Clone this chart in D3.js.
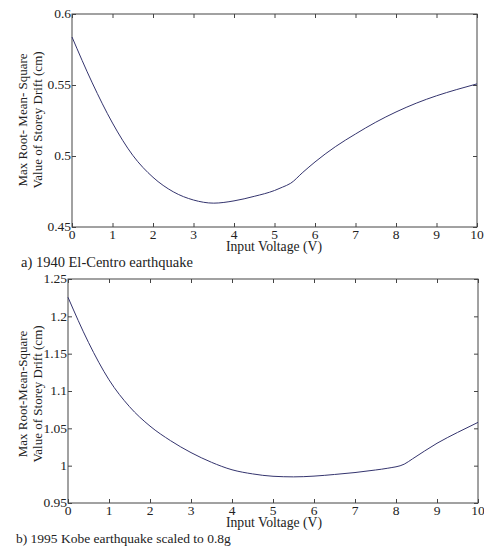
<!DOCTYPE html>
<html>
<head>
<meta charset="utf-8">
<script src="https://cdn.jsdelivr.net/npm/d3@7"></script>
<style>
  body { margin: 0; background: #fff; }
  text { font-family: "Liberation Serif", "Times New Roman", serif; fill: #222; }
</style>
</head>
<body>
<script>
var w = 484;
var h = 546;

// input voltage (V) sample points
var voltsA = [0, 0.5, 1, 1.5, 2, 2.5, 3, 3.5, 4, 4.5, 5, 5.2, 5.4, 5.7, 6, 6.5, 7, 7.5, 8, 8.5, 9, 9.5, 10];
var driftA = [0.5838, 0.5515, 0.5232, 0.5005, 0.4850, 0.4748, 0.4690, 0.4668, 0.4684, 0.4716, 0.4757, 0.4781, 0.4808, 0.4885, 0.4958, 0.5065, 0.5155, 0.5238, 0.5310, 0.5372, 0.5424, 0.5468, 0.5508];

var voltsB = [0, 0.5, 1, 1.5, 2, 2.5, 3, 3.5, 4, 4.5, 5, 5.5, 6, 6.5, 7, 7.5, 7.8, 8.2, 8.4, 9, 9.5, 10];
var driftB = [1.2255, 1.1650, 1.1150, 1.0790, 1.0530, 1.0335, 1.0175, 1.0045, 0.9945, 0.9890, 0.9858, 0.9850, 0.9860, 0.9882, 0.9908, 0.9942, 0.9966, 1.0020, 1.0090, 1.0300, 1.0445, 1.0580];

var xTicks = [0, 1, 2, 3, 4, 5, 6, 7, 8, 9, 10];
var yTicksA = [0.45, 0.5, 0.55, 0.6];
var yTicksB = [0.95, 1, 1.05, 1.1, 1.15, 1.2, 1.25];

var svg = d3.select("body")
            .append("svg")
            .attr("width", w)
            .attr("height", h);

function panel(cfg) {
  var x = d3.scaleLinear().domain([0, 10]).range([cfg.left, cfg.right]);
  var y = d3.scaleLinear().domain(cfg.yDomain).range([cfg.bottom, cfg.top]);
  var g = svg.append("g");

  //ticks pointing inward on all four sides
  g.append("g")
   .attr("transform", "translate(0," + cfg.bottom + ")")
   .call(d3.axisTop(x).tickValues(cfg.xTicks).tickSize(4).tickFormat(""));
  g.append("g")
   .attr("transform", "translate(0," + cfg.top + ")")
   .call(d3.axisBottom(x).tickValues(cfg.xTicks).tickSize(4).tickFormat(""));
  g.append("g")
   .attr("transform", "translate(" + cfg.left + ",0)")
   .call(d3.axisRight(y).tickValues(cfg.yTicks).tickSize(4).tickFormat(""));
  g.append("g")
   .attr("transform", "translate(" + cfg.right + ",0)")
   .call(d3.axisLeft(y).tickValues(cfg.yTicks).tickSize(4).tickFormat(""));
  g.selectAll(".domain").remove();
  g.selectAll(".tick line").attr("stroke", "#444");

  //frame
  g.append("rect")
   .attr("x", cfg.left)
   .attr("y", cfg.top)
   .attr("width", cfg.right - cfg.left)
   .attr("height", cfg.bottom - cfg.top)
   .attr("fill", "none")
   .attr("stroke", "#444")
   .attr("stroke-width", 1);

  //tick labels
  g.selectAll(".xl")
   .data(cfg.xTicks)
   .enter()
   .append("text")
   .attr("x", function(d) { return x(d); })
   .attr("y", cfg.bottom + 12)
   .attr("text-anchor", "middle")
   .style("font-size", "13.5px")
   .text(function(d) { return d; });

  g.selectAll(".yl")
   .data(cfg.yTicks)
   .enter()
   .append("text")
   .attr("x", cfg.left - 1)
   .attr("y", function(d) { return y(d); })
   .attr("dy", "0.33em")
   .attr("text-anchor", "end")
   .style("font-size", "13.5px")
   .text(function(d) { return d; });

  //axis labels
  g.append("text")
   .attr("x", 274)
   .attr("y", cfg.bottom + 24)
   .attr("text-anchor", "middle")
   .style("font-size", "13.7px")
   .text("Input Voltage (V)");

  var yl = g.append("text")
            .attr("transform", "translate(" + cfg.labelX + "," + cfg.labelY + ") rotate(-90)")
            .attr("text-anchor", "middle")
            .style("font-size", "13px");
  yl.append("tspan").attr("x", 0).attr("dy", 0).text(cfg.yLabel1);
  yl.append("tspan").attr("x", 0).attr("dy", 15).text("Value of Storey Drift (cm)");

  g.append("text")
   .attr("x", cfg.captionX)
   .attr("y", cfg.captionY)
   .style("font-size", cfg.captionSize)
   .text(cfg.caption);

  //the curve
  var line = d3.line()
               .x(function(d) { return x(d[0]); })
               .y(function(d) { return y(d[1]); })
               .curve(d3.curveMonotoneX);
  g.append("path")
   .datum(d3.zip(cfg.volts, cfg.drift))
   .attr("d", line)
   .attr("fill", "none")
   .attr("stroke", "#34346e")
   .attr("stroke-width", 1);
}

panel({
  left: 72, right: 477, top: 14, bottom: 227,
  yDomain: [0.45, 0.6], xTicks: xTicks, yTicks: yTicksA,
  volts: voltsA, drift: driftA,
  yLabel1: "Max Root- Mean- Square",
  labelX: 27, labelY: 120,
  caption: "a) 1940 El-Centro earthquake", captionX: 21, captionY: 267, captionSize: "14.5px"
});

panel({
  left: 68, right: 478, top: 279, bottom: 503,
  yDomain: [0.95, 1.25], xTicks: xTicks, yTicks: yTicksB,
  volts: voltsB, drift: driftB,
  yLabel1: "Max Root-Mean-Square",
  labelX: 27, labelY: 394,
  caption: "b) 1995 Kobe earthquake scaled to 0.8g", captionX: 16, captionY: 543, captionSize: "13.5px"
});
</script>
</body>
</html>
